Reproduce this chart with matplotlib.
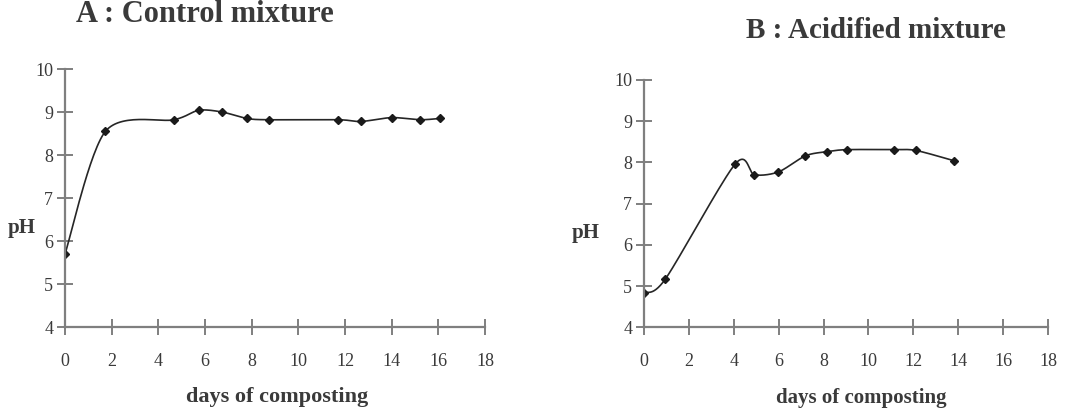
import matplotlib
matplotlib.use('Agg')
import matplotlib.pyplot as plt
import numpy as np

# ---- Data ----
days_a = [0, 1.73, 4.67, 5.73, 6.73, 7.8, 8.73, 11.71, 12.69, 14.0, 15.2, 16.07]
ph_a = [5.70, 8.55, 8.82, 9.04, 9.00, 8.85, 8.82, 8.82, 8.78, 8.87, 8.82, 8.85]

days_b = [0, 0.95, 4.06, 4.92, 5.99, 7.19, 8.14, 9.03, 11.14, 12.12, 13.82]
ph_b = [4.84, 5.17, 7.96, 7.70, 7.77, 8.16, 8.26, 8.31, 8.31, 8.29, 8.04]

x_ticks = [0, 2, 4, 6, 8, 10, 12, 14, 16, 18]
y_ticks = [4, 5, 6, 7, 8, 9, 10]

AXIS_GREY = '#7f7f7f'
TEXT_GREY = '#3a3a3a'
SERIF = ['Liberation Serif', 'DejaVu Serif']


def smooth(x, y, n=30, k=7.0):
    """Bezier smoothing through the points (like a spreadsheet smoothed line)."""
    x = np.asarray(x, float)
    y = np.asarray(y, float)
    px = np.concatenate([[x[0]], x, [x[-1]]])
    py = np.concatenate([[y[0]], y, [y[-1]]])
    xs, ys = [], []
    t = np.linspace(0, 1, n)
    for i in range(1, len(px) - 2):
        p0 = np.array([px[i], py[i]])
        p3 = np.array([px[i + 1], py[i + 1]])
        p1 = p0 + (np.array([px[i + 1], py[i + 1]]) - np.array([px[i - 1], py[i - 1]])) / k
        p2 = p3 - (np.array([px[i + 2], py[i + 2]]) - np.array([px[i], py[i]])) / k
        b = ((1 - t) ** 3)[:, None] * p0 + (3 * (1 - t) ** 2 * t)[:, None] * p1 \
            + (3 * (1 - t) * t ** 2)[:, None] * p2 + (t ** 3)[:, None] * p3
        xs.extend(b[:, 0])
        ys.extend(b[:, 1])
    return np.array(xs), np.array(ys)


def draw_panel(ax, days, ph):
    sx, sy = smooth(days, ph)
    ax.plot(sx, sy, color='#262626', lw=1.2)
    ax.plot(days, ph, ls='none', marker='D', ms=3.6, color='#1a1a1a')
    ax.set_xlim(0, 18)
    ax.set_ylim(4, 10)
    ax.set_xticks(x_ticks)
    ax.set_yticks(y_ticks)
    for s in ['top', 'right']:
        ax.spines[s].set_visible(False)
    for s in ['left', 'bottom']:
        ax.spines[s].set_color(AXIS_GREY)
        ax.spines[s].set_linewidth(1.6)
    ax.tick_params(direction='inout', length=11, width=1.4, color=AXIS_GREY,
                   labelsize=13, labelcolor=TEXT_GREY)
    ax.tick_params(axis='x', pad=13)
    ax.tick_params(axis='y', pad=3)
    for lab in ax.get_xticklabels() + ax.get_yticklabels():
        lab.set_family(SERIF)
    ax.patch.set_alpha(0)


fig = plt.figure(figsize=(10.82, 4.13), dpi=100)

ax_a = fig.add_axes([0.0601, 0.2082, 0.3882, 0.6247])
draw_panel(ax_a, days_a, ph_a)

ax_b = fig.add_axes([0.5952, 0.2075, 0.3734, 0.5988])
draw_panel(ax_b, days_b, ph_b)

# ---- Titles and axis labels ----
title_kw = dict(family=SERIF, fontweight='bold', color=TEXT_GREY, ha='center', va='center')
fig.text(205 / 1082, 1 - 15 / 413, 'A : Control mixture', fontsize=22, **title_kw)
fig.text(876 / 1082, 1 - 30 / 413, 'B : Acidified mixture', fontsize=21, **title_kw)

fig.text(277 / 1082, 1 - 397 / 413, 'days of composting', fontsize=16, **title_kw)
fig.text(861 / 1082, 1 - 398 / 413, 'days of composting', fontsize=15, **title_kw)

fig.text(22 / 1082, 1 - 228 / 413, 'pH', fontsize=15, **title_kw)
fig.text(586 / 1082, 1 - 233 / 413, 'pH', fontsize=15, **title_kw)

fig.savefig('out.png', dpi=100, facecolor='white')
plt.close(fig)
